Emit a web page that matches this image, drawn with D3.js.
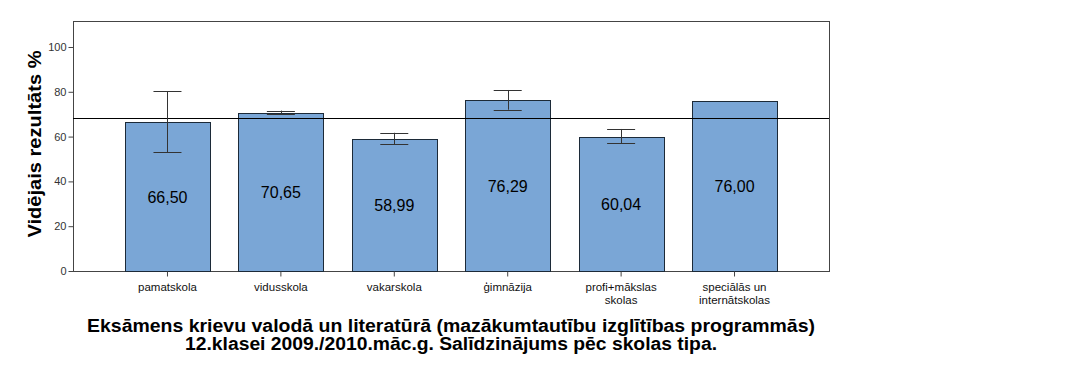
<!DOCTYPE html>
<html>
<head>
<meta charset="utf-8">
<script src="https://d3js.org/d3.v7.min.js"></script>
<style>
  body { margin: 0; background: #fff; }
  text { font-family: "Liberation Sans", Arial, sans-serif; }
</style>
</head>
<body>
<svg width="1092" height="367"></svg>
<script>
const categories = [["pamatskola"], ["vidusskola"], ["vakarskola"], ["ģimnāzija"], ["profi+mākslas", "skolas"], ["speciālās un", "internātskolas"]];
const means = [66.50, 70.65, 58.99, 76.29, 60.04, 76.00];
const errLow = [53.0, 70.2, 56.6, 72.0, 57.0, null];
const errHigh = [80.2, 71.6, 61.7, 80.8, 63.4, null];
const refLine = 68.3;
const yTicks = [0, 20, 40, 60, 80, 100];

const svg = d3.select("svg");
const pLeft = 73, pRight = 829, pTop = 21, pBottom = 271;

const x = d3.scaleBand()
    .domain(d3.range(categories.length))
    .range([pLeft, pRight])
    .paddingInner(0.25)
    .paddingOuter(0.458);

const y = d3.scaleLinear()
    .domain([0, 111.6])
    .range([pBottom, pTop]);

// frame
svg.append("rect")
    .attr("x", pLeft + 0.5).attr("y", pTop + 0.5)
    .attr("width", pRight - pLeft).attr("height", pBottom - pTop)
    .attr("fill", "none").attr("stroke", "#444");

// bars
svg.selectAll(".bar")
    .data(means)
    .enter().append("rect")
    .attr("class", "bar")
    .attr("x", (d, i) => Math.round(x(i)) + 0.5)
    .attr("y", d => Math.round(y(d)) + 0.5)
    .attr("width", Math.round(x.bandwidth()))
    .attr("height", d => pBottom - Math.round(y(d)))
    .attr("fill", "#7aa6d6")
    .attr("stroke", "#1c2a38");

// reference line
svg.append("line")
    .attr("x1", pLeft).attr("x2", pRight)
    .attr("y1", Math.round(y(refLine)) + 0.5).attr("y2", Math.round(y(refLine)) + 0.5)
    .attr("stroke", "#000");

// error bars
const errs = means.map((d, i) => ({ i: i, lo: errLow[i], hi: errHigh[i] })).filter(d => d.lo != null);
const eg = svg.selectAll(".err").data(errs).enter().append("g").attr("class", "err")
    .attr("stroke", "#333");
eg.append("line")
    .attr("x1", d => Math.round(x(d.i) + x.bandwidth() / 2) + 0.5)
    .attr("x2", d => Math.round(x(d.i) + x.bandwidth() / 2) + 0.5)
    .attr("y1", d => y(d.hi)).attr("y2", d => y(d.lo));
eg.selectAll(".cap").data(d => [[d.i, d.hi], [d.i, d.lo]]).enter().append("line")
    .attr("x1", d => x(d[0]) + x.bandwidth() / 2 - 14)
    .attr("x2", d => x(d[0]) + x.bandwidth() / 2 + 14)
    .attr("y1", d => Math.round(y(d[1])) + 0.5).attr("y2", d => Math.round(y(d[1])) + 0.5);

// value labels
svg.selectAll(".val")
    .data(means)
    .enter().append("text")
    .attr("class", "val")
    .attr("x", (d, i) => x(i) + x.bandwidth() / 2)
    .attr("y", d => y(d / 2) + 6)
    .attr("text-anchor", "middle")
    .attr("font-size", 16)
    .attr("fill", "#000")
    .text(d => d.toFixed(2).replace(".", ","));

// y axis
const yAxis = svg.append("g")
    .attr("transform", `translate(${pLeft + 0.5},0)`)
    .call(d3.axisLeft(y).tickValues(yTicks).tickSize(5).tickPadding(2));
yAxis.select(".domain").remove();
yAxis.selectAll("line").attr("stroke", "#444");
yAxis.selectAll("text").attr("font-size", 11).attr("fill", "#333")
    .attr("font-family", "Liberation Sans, Arial, sans-serif");

// x axis
const xAxis = svg.append("g")
    .attr("transform", `translate(0,${pBottom + 0.5})`)
    .call(d3.axisBottom(x).tickSize(5).tickFormat(""));
xAxis.select(".domain").remove();
xAxis.selectAll("line").attr("stroke", "#444");

svg.selectAll(".xl")
    .data(categories)
    .enter().append("text")
    .attr("class", "xl")
    .attr("text-anchor", "middle")
    .attr("font-size", 11.5)
    .attr("fill", "#111")
    .attr("transform", (d, i) => `translate(${x(i) + x.bandwidth() / 2},${pBottom + 20})`)
    .selectAll("tspan").data(d => d).enter().append("tspan")
    .attr("x", 0).attr("y", (d, j) => j * 12.5)
    .text(d => d);

// y title
svg.append("text")
    .attr("transform", `translate(41,${(pTop + pBottom) / 2 - 2}) rotate(-90)`)
    .attr("text-anchor", "middle")
    .attr("font-size", 19)
    .attr("font-weight", "bold")
    .attr("textLength", 187)
    .attr("lengthAdjust", "spacingAndGlyphs")
    .text("Vidējais rezultāts %");

// title
const title = ["Eksāmens krievu valodā un literatūrā (mazākumtautību izglītības programmās)",
    "12.klasei 2009./2010.māc.g. Salīdzinājums pēc skolas tipa."];
const titleWidths = [728, 532];
svg.append("text")
    .attr("text-anchor", "middle")
    .attr("font-size", 18)
    .attr("font-weight", "bold")
    .attr("transform", `translate(${(pLeft + pRight) / 2},332)`)
    .selectAll("tspan").data(title).enter().append("tspan")
    .attr("x", 0).attr("y", (d, j) => j * 18)
    .attr("textLength", (d, j) => titleWidths[j])
    .attr("lengthAdjust", "spacingAndGlyphs")
    .text(d => d);
</script>
</body>
</html>
